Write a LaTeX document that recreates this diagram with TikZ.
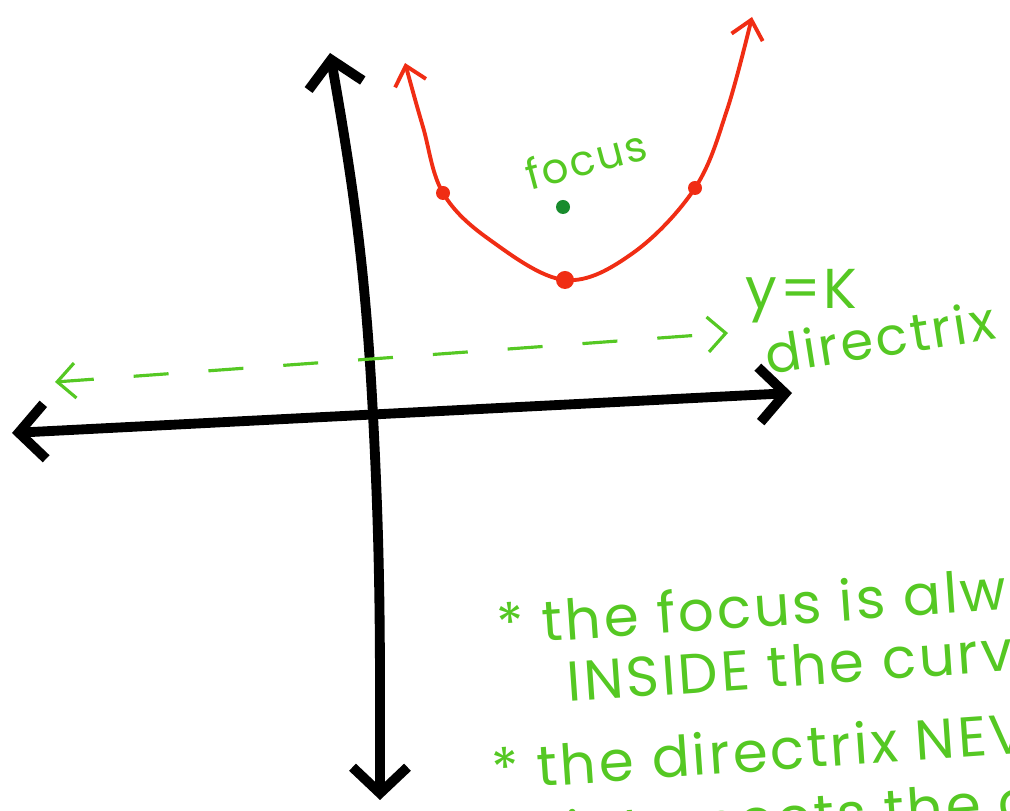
\documentclass[tikz,border=0pt]{standalone}
\usepackage{fontspec}
\newfontfamily\hand{Poppins}[LetterSpace=5]
\usetikzlibrary{arrows.meta}
\definecolor{penred}{RGB}{240,45,20}
\definecolor{pengreen}{RGB}{85,200,35}
\definecolor{dotgreen}{RGB}{25,140,45}

\begin{document}
\begin{tikzpicture}[
    axis/.style={line width=2.8pt,{Straight Barb[length=2.6mm,width=5.5mm]}-{Straight Barb[length=2.6mm,width=5.5mm]}},
    curve/.style={penred,line width=1.1pt,{Straight Barb[length=1.8mm,width=3.2mm]}-{Straight Barb[length=1.8mm,width=3.2mm]}},
    note/.style={pengreen,font=\hand\fontsize{16}{19}\selectfont,inner sep=0pt}
]
        \useasboundingbox (0,0) rectangle (10.1,8.11);
        \clip (0,0) rectangle (10.1,8.11);

        \coordinate (ytop) at (3.30,7.58);
        \coordinate (ymid) at (3.73,3.96);
        \coordinate (ybot) at (3.80,0.11);
        \coordinate (xleft) at (0.12,3.78);
        \coordinate (xright) at (7.92,4.18);
        \draw[axis] (ybot) to[out=90,in=-87] (ymid) to[out=93,in=-80] (ytop);
        \draw[axis] (xleft) -- (xright);

        \coordinate (dleft) at (0.55,4.29);
        \coordinate (dright) at (7.28,4.78);
        \draw[pengreen,line width=0.9pt,dash pattern=on 3.5mm off 4mm,{Straight Barb[length=1.8mm,width=3.5mm]}-{Straight Barb[length=1.8mm,width=3.5mm]}] (dleft) -- (dright);

        \coordinate (pleft) at (4.05,7.48);
        \coordinate (sleft) at (4.43,6.18);
        \coordinate (vertex) at (5.65,5.31);
        \coordinate (sright) at (6.95,6.23);
        \coordinate (pright) at (7.52,7.94);
        \draw[curve] plot[smooth,tension=0.6] coordinates {(pleft) (4.23,6.84) (sleft) (4.90,5.71) (vertex) (6.33,5.58) (sright) (7.27,7.01) (pright)};
        \fill[penred] (vertex) circle (0.09);
        \fill[penred] (sleft) circle (0.07);
        \fill[penred] (sright) circle (0.07);

        \coordinate (focus) at (5.63,6.04);
        \fill[dotgreen] (focus) circle (0.07);
        \node[note,rotate=15,font=\hand\fontsize{12}{14}\selectfont] (focuslbl) at (5.86,6.52) {focus};

        \node[note,anchor=base west] (eqn) at (7.45,5.02) {y=K};
        \node[note,anchor=base west,rotate=9,font=\hand\fontsize{15}{18}\selectfont] (dirlbl) at (7.68,4.36) {directrix};

        \node[note,anchor=base west,rotate=4] (rule1) at (4.98,1.66) {* the focus is always};
        \node[note,anchor=base west,rotate=4] (rule1b) at (5.68,1.09) {INSIDE the curve};
        \node[note,anchor=base west,rotate=4] (rule2) at (4.93,0.21) {* the directrix NEVER};
        \node[note,anchor=base west,rotate=4] (rule2b) at (5.68,-0.42) {intersects the curve};
    \end{tikzpicture}
\end{document}
